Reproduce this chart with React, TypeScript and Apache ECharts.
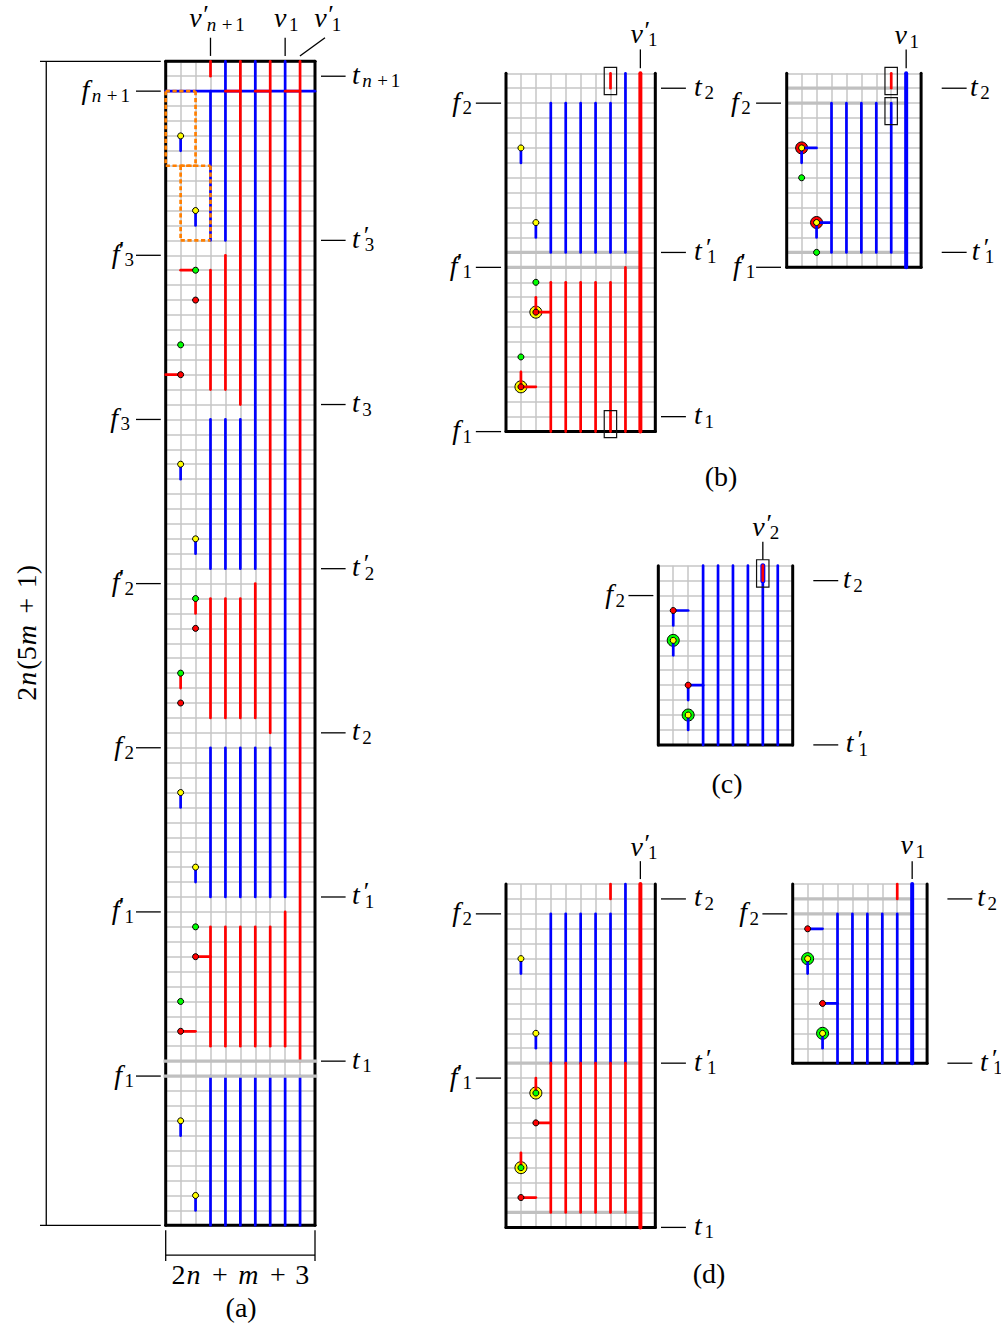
import React, { useEffect, useRef } from "react";
import * as echarts from "echarts";

type Seg = [number, number, number, number];
type Pt = [number, number];
type Lab = [string, number, number, string];

const SERIF = "'Liberation Serif', 'DejaVu Serif', serif";
const BLUE = "#0000ff";
const RED = "#ff0000";
const GRAY = "#c0c0c0";
const GREEN = "#00ff00";
const YELLOW = "#ffff00";
const ORANGE = "#ff7f00";

/* ---------- panel (a) ---------- */
const blueA: Seg[] = [
  [0, 2, 10, 2],
  [3, 2, 3, 12], [4, 0, 4, 12], [6, 0, 6, 34], [8, 0, 8, 56],
  [3, 24, 3, 34], [4, 24, 4, 34], [5, 24, 5, 34],
  [3, 46, 3, 56], [4, 46, 4, 56], [5, 46, 5, 56], [6, 46, 6, 56], [7, 46, 7, 56],
  [3, 68, 3, 78], [4, 68, 4, 78], [5, 68, 5, 78], [6, 68, 6, 78], [7, 68, 7, 78], [8, 68, 8, 78], [9, 68, 9, 78],
  [1, 5, 1, 6], [2, 10, 2, 11], [1, 27, 1, 28], [2, 32, 2, 33], [1, 49, 1, 50], [2, 54, 2, 55], [1, 71, 1, 72], [2, 76, 2, 77],
];
const redA: Seg[] = [
  [3, 0, 3, 1], [5, 0, 5, 23], [7, 0, 7, 45], [9, 0, 9, 67],
  [4, 2, 5, 2], [6, 2, 7, 2], [8, 2, 9, 2],
  [3, 14, 3, 22], [4, 13, 4, 22],
  [3, 36, 3, 44], [4, 36, 4, 44], [5, 36, 5, 44], [6, 35, 6, 44],
  [3, 58, 3, 66], [4, 58, 4, 66], [5, 58, 5, 66], [6, 58, 6, 66], [7, 58, 7, 66], [8, 57, 8, 66],
  [1, 14, 2, 14], [0, 21, 1, 21], [2, 36, 2, 37], [1, 41, 1, 42], [2, 60, 3, 60], [1, 65, 2, 65],
];
const yellowA: Pt[] = [[1, 5], [2, 10], [1, 27], [2, 32], [1, 49], [2, 54], [1, 71], [2, 76]];
const greenA: Pt[] = [[2, 14], [1, 19], [2, 36], [1, 41], [2, 58], [1, 63]];
const redDotsA: Pt[] = [[2, 16], [1, 21], [2, 38], [1, 43], [2, 60], [1, 65]];
const grayOverA: Seg[] = [[-0.15, 67, 10.15, 67], [-0.15, 68, 10.15, 68]];
const orangeA: Seg[] = [
  [0, 2, 2, 2], [2, 2, 2, 7], [0, 7, 2, 7], [0, 2, 0, 7],
  [1, 7, 3, 7], [3, 7, 3, 12], [1, 12, 3, 12], [1, 7, 1, 12],
];
const frameA: Seg[] = [[0, 0, 10, 0], [0, 78, 10, 78], [0, 0, 0, 78], [10, 0, 10, 78]];
const leadersA: Seg[] = [
  [3, -1.58, 3, -0.36], [8, -1.58, 8, -0.36], [8.99, -0.36, 10.67, -1.58],
  [10.4, 1, 12.05, 1], [10.4, 12, 12.05, 12], [10.4, 23, 12.05, 23], [10.4, 34, 12.05, 34], [10.4, 45, 12.05, 45], [10.4, 56, 12.05, 56], [10.4, 67, 12.05, 67],
  [-1.99, 2, -0.33, 2], [-1.99, 13, -0.33, 13], [-1.99, 24, -0.33, 24], [-1.99, 35, -0.33, 35], [-1.99, 46, -0.33, 46], [-1.99, 57, -0.33, 57], [-1.99, 68, -0.33, 68],
  [-8, 0, -8, 78], [-8.42, 0, -0.33, 0], [-8.42, 78, -0.33, 78],
  [0, 80, 10, 80], [0, 78.33, 0, 80.4], [10, 78.33, 10, 80.4],
];
const labelsA: Lab[] = [
  ["{ip|v}{p|′}{si|n}{sp|+}{s|1}", 3.44, -2.77, "center"],
  ["{i|v}{s|1}", 8.08, -2.77, "center"],
  ["{ip|v}{p|′}{s|1}", 10.85, -2.77, "center"],
  ["{i|t}{si|n}{sp|+}{s|1}", 12.47, 1, "left"],
  ["{ip|t}{p|′}{s|3}", 12.47, 12, "left"],
  ["{i|t}{s|3}", 12.47, 23, "left"],
  ["{ip|t}{p|′}{s|2}", 12.47, 34, "left"],
  ["{i|t}{s|2}", 12.47, 45, "left"],
  ["{ip|t}{p|′}{s|1}", 12.47, 56, "left"],
  ["{i|t}{s|1}", 12.47, 67, "left"],
  ["{i|f}{si|n}{sp|+}{s|1}", -2.39, 2, "right"],
  ["{ip|f}{p|′}{s|3}", -2.12, 13, "right"],
  ["{i|f}{s|3}", -2.39, 24, "right"],
  ["{ip|f}{p|′}{s|2}", -2.12, 35, "right"],
  ["{i|f}{s|2}", -2.12, 46, "right"],
  ["{ip|f}{p|′}{s|1}", -2.12, 57, "right"],
  ["{i|f}{s|1}", -2.12, 68, "right"],
  ["{r|2}{in|n}{b| + }{in|m}{b| + }{r|3}", 5, 81.4, "center"],
  ["{r|(a)}", 5.05, 83.65, "center"],
];
const rotatedA: Lab[] = [["{r|2}{in|n}{r|(5}{in|m}{b| + }{r|1)}", -9.3, 38.3, "center"]];

/* ---------- panel (b) left ---------- */
const blueB: Seg[] = [
  [3, 2, 3, 12], [4, 2, 4, 12], [5, 2, 5, 12], [6, 2, 6, 12], [7, 2, 7, 12], [8, 0, 8, 12],
  [1, 5, 1, 6], [2, 10, 2, 11],
];
const redB: Seg[] = [
  [7, 0, 7, 1], [8, 13, 8, 24],
  [3, 14, 3, 24], [4, 14, 4, 24], [5, 14, 5, 24], [6, 14, 6, 24], [7, 14, 7, 24],
  [2, 15, 2, 16], [2, 16, 3, 16], [1, 20, 1, 21], [1, 21, 2, 21],
];
const thickRedB: Seg[] = [[9, 0, 9, 24]];
const grayB: Seg[] = [[0, 12, 9, 12], [0, 13, 9, 13]];
const frameB: Seg[] = [[0, 24, 10, 24], [0, 0, 0, 24], [10, 0, 10, 24]];
const yellowB: Pt[] = [[1, 5], [2, 10]];
const greenB: Pt[] = [[2, 14], [1, 19]];
const redDotsB: Pt[] = [[2, 16], [1, 21]];
const yellowRingsB: Pt[] = [[2, 16], [1, 21]];
const boxesB: Seg[] = [[6.58, -0.4, 7.41, 1.43], [6.58, 22.6, 7.41, 24.4]];
const leadersB: Seg[] = [
  [9, -1.6, 9, -0.34],
  [10.38, 1, 12.05, 1], [10.38, 12, 12.05, 12], [10.38, 23, 12.05, 23],
  [-2.02, 2, -0.33, 2], [-2.02, 13, -0.33, 13], [-2.02, 24, -0.33, 24],
];
const labelsB: Lab[] = [
  ["{ip|v}{p|′}{s|1}", 9.24, -2.55, "center"],
  ["{i|t}{s|2}", 12.6, 1, "left"],
  ["{ip|t}{p|′}{s|1}", 12.6, 12, "left"],
  ["{i|t}{s|1}", 12.6, 23, "left"],
  ["{i|f}{s|2}", -2.28, 2, "right"],
  ["{ip|f}{p|′}{s|1}", -2.28, 13, "right"],
  ["{i|f}{s|1}", -2.28, 24, "right"],
  ["{r|(b)}", 14.4, 27.17, "center"],
];

/* ---------- panel (b) right ---------- */
const blueB2: Seg[] = [
  [3, 2, 3, 12], [4, 2, 4, 12], [5, 2, 5, 12], [6, 2, 6, 12], [7, 2, 7, 12],
  [1, 5, 1, 6], [1, 5, 2, 5], [2, 10, 2, 11], [2, 10, 3, 10],
];
const redB2: Seg[] = [[7, 0, 7, 1]];
const thickBlueB2: Seg[] = [[8, 0, 8, 13]];
const grayB2: Seg[] = [[0, 1, 8, 1], [0, 2, 8, 2], [0, 12, 8, 12]];
const frameB2: Seg[] = [[0, 13, 9, 13], [0, 0, 0, 13], [9, 0, 9, 13]];
const redRingsB2: Pt[] = [[1, 5], [2, 10]];
const yellowB2: Pt[] = [[1, 5], [2, 10]];
const greenB2: Pt[] = [[1, 7], [2, 12]];
const boxesB2: Seg[] = [[6.58, -0.4, 7.41, 1.43], [6.58, 1.63, 7.41, 3.44]];
const leadersB2: Seg[] = [
  [8, -1.6, 8, -0.34],
  [10.38, 1, 12.05, 1], [10.38, 12, 12.05, 12],
  [-2.05, 2, -0.38, 2], [-2.05, 13, -0.38, 13],
];
const labelsB2: Lab[] = [
  ["{i|v}{s|1}", 8.04, -2.45, "center"],
  ["{i|t}{s|2}", 12.27, 1, "left"],
  ["{ip|t}{p|′}{s|1}", 12.4, 12, "left"],
  ["{i|f}{s|2}", -2.4, 2, "right"],
  ["{ip|f}{p|′}{s|1}", -2.1, 13, "right"],
];

/* ---------- panel (c) ---------- */
const blueC: Seg[] = [
  [3, 0, 3, 12], [4, 0, 4, 12], [5, 0, 5, 12], [6, 0, 6, 12], [7, 0, 7, 12], [8, 0, 8, 12],
  [1, 3, 2, 3], [1, 3, 1, 4], [1, 5, 1, 6], [2, 8, 3, 8], [2, 8, 2, 9], [2, 10, 2, 11],
];
const thickBlueC: Seg[] = [[7, 0, 7, 1]];
const redC: Seg[] = [[7, 0, 7, 1]];
const frameC: Seg[] = [[0, 12, 9, 12], [0, 0, 0, 12], [9, 0, 9, 12]];
const greenRingsC: Pt[] = [[1, 5], [2, 10]];
const yellowC: Pt[] = [[1, 5], [2, 10]];
const redDotsC: Pt[] = [[1, 3], [2, 8]];
const boxesC: Seg[] = [[6.58, -0.4, 7.41, 1.43]];
const leadersC: Seg[] = [
  [7, -1.6, 7, -0.4],
  [10.38, 1, 12.05, 1], [10.38, 12, 12.05, 12],
  [-2, 2, -0.33, 2],
];
const labelsC: Lab[] = [
  ["{ip|v}{p|′}{s|2}", 7.2, -2.5, "center"],
  ["{i|t}{s|2}", 12.37, 1, "left"],
  ["{ip|t}{p|′}{s|1}", 12.55, 12, "left"],
  ["{i|f}{s|2}", -2.23, 2, "right"],
  ["{r|(c)}", 4.6, 14.75, "center"],
];

/* ---------- panel (d) left ---------- */
const blueD: Seg[] = [
  [3, 2, 3, 12], [4, 2, 4, 12], [5, 2, 5, 12], [6, 2, 6, 12], [7, 2, 7, 12], [8, 0, 8, 12],
  [1, 5, 1, 6], [2, 10, 2, 11],
];
const redD: Seg[] = [
  [7, 0, 7, 1],
  [3, 12, 3, 22], [4, 12, 4, 22], [5, 12, 5, 22], [6, 12, 6, 22], [7, 12, 7, 22], [8, 12, 8, 22],
  [2, 13, 2, 14], [2, 16, 3, 16], [1, 18, 1, 19], [1, 21, 2, 21],
];
const thickRedD: Seg[] = [[9, 0, 9, 23]];
const grayD: Seg[] = [[0, 12, 9, 12], [0, 22, 9, 22]];
const frameD: Seg[] = [[0, 23, 10, 23], [0, 0, 0, 23], [10, 0, 10, 23]];
const yellowD: Pt[] = [[1, 5], [2, 10]];
const yellowRingsD: Pt[] = [[2, 14], [1, 19]];
const greenD: Pt[] = [[2, 14], [1, 19]];
const redDotsD: Pt[] = [[2, 16], [1, 21]];
const leadersD: Seg[] = [
  [9, -1.53, 9, -0.33],
  [10.38, 1, 12.05, 1], [10.38, 12, 12.05, 12], [10.38, 23, 12.05, 23],
  [-2.02, 2, -0.33, 2], [-2.02, 13, -0.33, 13],
];
const labelsD: Lab[] = [
  ["{ip|v}{p|′}{s|1}", 9.24, -2.4, "center"],
  ["{i|t}{s|2}", 12.6, 1, "left"],
  ["{ip|t}{p|′}{s|1}", 12.6, 12, "left"],
  ["{i|t}{s|1}", 12.6, 23, "left"],
  ["{i|f}{s|2}", -2.28, 2, "right"],
  ["{ip|f}{p|′}{s|1}", -2.28, 13, "right"],
  ["{r|(d)}", 13.6, 26.2, "center"],
];

/* ---------- panel (d) right ---------- */
const blueD2: Seg[] = [
  [3, 2, 3, 12], [4, 2, 4, 12], [5, 2, 5, 12], [6, 2, 6, 12], [7, 2, 7, 12],
  [1, 3, 2, 3], [1, 5, 1, 6], [2, 8, 3, 8], [2, 10, 2, 11],
];
const redD2: Seg[] = [[7, 0, 7, 1]];
const thickBlueD2: Seg[] = [[8, 0, 8, 12]];
const grayD2: Seg[] = [[0, 1, 8, 1], [0, 2, 8, 2]];
const frameD2: Seg[] = [[0, 12, 9, 12], [0, 0, 0, 12], [9, 0, 9, 12]];
const greenRingsD2: Pt[] = [[1, 5], [2, 10]];
const yellowD2: Pt[] = [[1, 5], [2, 10]];
const redDotsD2: Pt[] = [[1, 3], [2, 8]];
const leadersD2: Seg[] = [
  [8, -1.53, 8, -0.33],
  [10.36, 1, 12.03, 1], [10.36, 12, 12.03, 12],
  [-2.03, 2, -0.36, 2],
];
const labelsD2: Lab[] = [
  ["{i|v}{s|1}", 8.04, -2.5, "center"],
  ["{i|t}{s|2}", 12.35, 1, "left"],
  ["{ip|t}{p|′}{s|1}", 12.55, 12, "left"],
  ["{i|f}{s|2}", -2.26, 2, "right"],
];

const base = { fontFamily: SERIF, fill: "#000" };
const rich: any = {
  i: { ...base, fontStyle: "italic", fontSize: 28, lineHeight: 32, padding: [0, 2.5, 0, 0] },
  ip: { ...base, fontStyle: "italic", fontSize: 28, lineHeight: 32 },
  in: { ...base, fontStyle: "italic", fontSize: 28, lineHeight: 32, padding: [0, 2, 0, 1] },
  r: { ...base, fontSize: 28, lineHeight: 32 },
  b: { ...base, fontSize: 28, lineHeight: 32, padding: [0, 2.5, 0, 2.5] },
  s: { ...base, fontSize: 19, lineHeight: 19, verticalAlign: "bottom" },
  si: { ...base, fontStyle: "italic", fontSize: 19, lineHeight: 19, verticalAlign: "bottom", padding: [0, 2.5, 0, 0] },
  sp: { ...base, fontSize: 19, lineHeight: 19, verticalAlign: "bottom", padding: [0, 3, 0, 3] },
  p: { ...base, fontSize: 26, lineHeight: 32, verticalAlign: "top", width: 1, padding: [0, 0, 0, 4] },
};

function seg(i: number, data: Seg[], stroke: string, lineWidth: number, z: number, extra: any = {}) {
  return {
    type: "custom", xAxisIndex: i, yAxisIndex: i, z, silent: true, clip: false,
    encode: { x: [0, 2], y: [1, 3] },
    data,
    renderItem: (_: any, api: any) => {
      const a = api.coord([api.value(0), api.value(1)]);
      const b = api.coord([api.value(2), api.value(3)]);
      return {
        type: "line",
        shape: { x1: a[0], y1: a[1], x2: b[0], y2: b[1] },
        style: { stroke, lineWidth, lineCap: "round", ...extra },
      };
    },
  };
}
function box(i: number, data: Seg[], z: number) {
  return {
    type: "custom", xAxisIndex: i, yAxisIndex: i, z, silent: true, clip: false,
    encode: { x: [0, 2], y: [1, 3] },
    data,
    renderItem: (_: any, api: any) => {
      const a = api.coord([api.value(0), api.value(1)]);
      const b = api.coord([api.value(2), api.value(3)]);
      return {
        type: "rect",
        shape: { x: a[0], y: a[1], width: b[0] - a[0], height: b[1] - a[1] },
        style: { fill: "none", stroke: "#111", lineWidth: 1.2 },
      };
    },
  };
}
function dots(i: number, data: Pt[], color: string, size: number, z: number) {
  return {
    type: "scatter", xAxisIndex: i, yAxisIndex: i, z, silent: true, clip: false,
    symbol: "circle", symbolSize: size, data,
    itemStyle: { color, opacity: 1, borderColor: "#000", borderWidth: 1 },
  };
}
function labels(i: number, data: Lab[], rotation = 0) {
  return {
    type: "custom", xAxisIndex: i, yAxisIndex: i, z: 20, silent: true, clip: false,
    encode: { x: 0, y: 1 },
    data: data.map((l) => [l[1], l[2]]),
    renderItem: (p: any, api: any) => {
      const c = api.coord([api.value(0), api.value(1)]);
      const l = data[p.dataIndex];
      return {
        type: "text", x: c[0], y: c[1] - (rotation ? 0 : 2), rotation,
        style: { text: l[0], rich, align: l[3], verticalAlign: "middle", fill: "#000" },
      };
    },
  };
}

const TH = 2.7;
const THICK = 4;
const GW = 3.3;
const LW = 1.3;
const FW = 3;
const DOT = 6;
const RING = 12;

const grid = (left: number, top: number, width: number, height: number) => ({ left, top, width, height, containLabel: false });
const grids = [
  grid(165.7, 61.3, 149.3, 1164),
  grid(506, 73.3, 149.3, 358.3),
  grid(786.7, 73.3, 134.4, 194),
  grid(658.3, 565.7, 134.4, 179.2),
  grid(506, 884, 149.3, 343.4),
  grid(792.7, 884, 134.4, 179.2),
];
const colsRows: Pt[] = [[10, 78], [10, 24], [9, 13], [9, 12], [10, 23], [9, 12]];

const splitLine = { show: true, lineStyle: { color: "#c6c6c6", width: 1.5 } };
const hidden = { axisLine: { show: false }, axisTick: { show: false }, axisLabel: { show: false }, splitLine };

export default function App() {
  const ref = useRef<HTMLDivElement>(null);
  useEffect(() => {
    const chart = echarts.init(ref.current!, undefined, { renderer: "svg" });
    chart.setOption({
      animation: false,
      backgroundColor: "#ffffff",
      grid: grids,
      xAxis: colsRows.map((c, i) => ({ type: "value", gridIndex: i, min: 0, max: c[0], interval: 1, ...hidden })),
      yAxis: colsRows.map((c, i) => ({ type: "value", gridIndex: i, min: 0, max: c[1], interval: 1, inverse: true, ...hidden })),
      series: [
        // (a)
        seg(0, frameA, "#000", FW, 2),
        seg(0, blueA, BLUE, TH, 4),
        seg(0, redA, RED, TH, 5),
        dots(0, yellowA, YELLOW, DOT, 6),
        dots(0, greenA, GREEN, DOT, 6),
        dots(0, redDotsA, RED, DOT, 6),
        seg(0, orangeA, ORANGE, TH, 7, { lineCap: "butt", lineDash: [4.2, 2.6] }),
        seg(0, grayOverA, GRAY, GW, 8, { lineCap: "butt" }),
        seg(0, leadersA, "#000", LW, 9, { lineCap: "butt" }),
        labels(0, labelsA),
        labels(0, rotatedA, Math.PI / 2),
        // (b) left
        seg(1, grayB, GRAY, GW, 1, { lineCap: "butt" }),
        seg(1, frameB, "#000", FW, 2),
        dots(1, yellowRingsB, YELLOW, RING, 3),
        seg(1, blueB, BLUE, TH, 4),
        seg(1, redB, RED, TH, 5),
        seg(1, thickRedB, RED, THICK, 5),
        dots(1, yellowB, YELLOW, DOT, 6),
        dots(1, greenB, GREEN, DOT, 6),
        dots(1, redDotsB, RED, DOT, 6),
        box(1, boxesB, 7),
        seg(1, leadersB, "#000", LW, 9, { lineCap: "butt" }),
        labels(1, labelsB),
        // (b) right
        seg(2, grayB2, GRAY, GW, 1, { lineCap: "butt" }),
        seg(2, frameB2, "#000", FW, 2),
        dots(2, redRingsB2, RED, RING, 3),
        seg(2, blueB2, BLUE, TH, 4),
        seg(2, redB2, RED, TH, 5),
        seg(2, thickBlueB2, BLUE, THICK, 5),
        dots(2, yellowB2, YELLOW, DOT, 6),
        dots(2, greenB2, GREEN, DOT, 6),
        box(2, boxesB2, 7),
        seg(2, leadersB2, "#000", LW, 9, { lineCap: "butt" }),
        labels(2, labelsB2),
        // (c)
        seg(3, frameC, "#000", FW, 2),
        dots(3, greenRingsC, GREEN, RING, 3),
        seg(3, blueC, BLUE, TH, 4),
        seg(3, thickBlueC, BLUE, 5, 4),
        seg(3, redC, RED, TH, 5),
        dots(3, yellowC, YELLOW, DOT, 6),
        dots(3, redDotsC, RED, DOT, 6),
        box(3, boxesC, 7),
        seg(3, leadersC, "#000", LW, 9, { lineCap: "butt" }),
        labels(3, labelsC),
        // (d) left
        seg(4, grayD, GRAY, GW, 1, { lineCap: "butt" }),
        seg(4, frameD, "#000", FW, 2),
        dots(4, yellowRingsD, YELLOW, RING, 3),
        seg(4, blueD, BLUE, TH, 4),
        seg(4, redD, RED, TH, 5),
        seg(4, thickRedD, RED, THICK, 5),
        dots(4, yellowD, YELLOW, DOT, 6),
        dots(4, greenD, GREEN, DOT, 6),
        dots(4, redDotsD, RED, DOT, 6),
        seg(4, leadersD, "#000", LW, 9, { lineCap: "butt" }),
        labels(4, labelsD),
        // (d) right
        seg(5, grayD2, GRAY, GW, 1, { lineCap: "butt" }),
        seg(5, frameD2, "#000", FW, 2),
        dots(5, greenRingsD2, GREEN, RING, 3),
        seg(5, blueD2, BLUE, TH, 4),
        seg(5, redD2, RED, TH, 5),
        seg(5, thickBlueD2, BLUE, THICK, 5),
        dots(5, yellowD2, YELLOW, DOT, 6),
        dots(5, redDotsD2, RED, DOT, 6),
        seg(5, leadersD2, "#000", LW, 9, { lineCap: "butt" }),
        labels(5, labelsD2),
      ],
    });
    return () => chart.dispose();
  }, []);
  return <div ref={ref} style={{ position: "absolute", left: 0, top: 0, width: 1001, height: 1326 }} />;
}
